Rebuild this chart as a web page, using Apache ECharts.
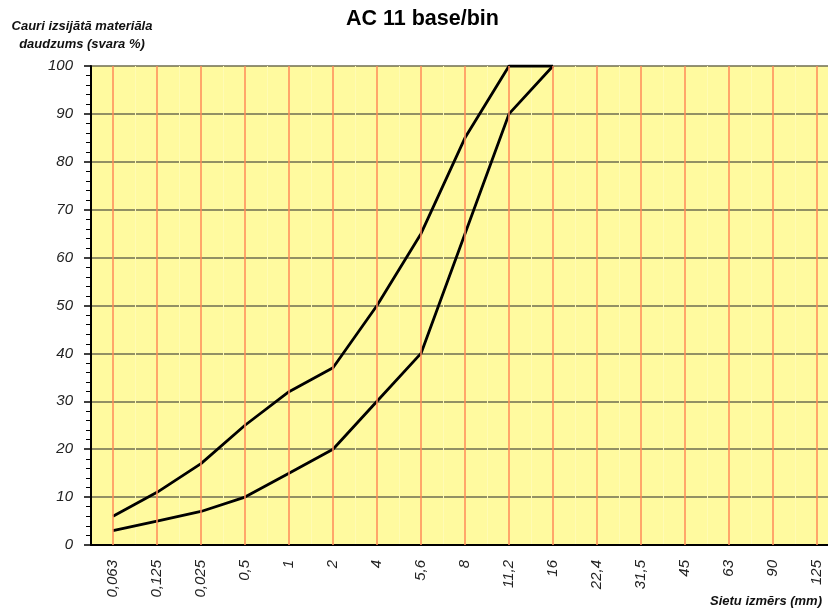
<!DOCTYPE html>
<html>
<head>
<meta charset="utf-8">
<script src="https://cdn.jsdelivr.net/npm/echarts@6/dist/echarts.min.js"></script>
<style>
  html, body { margin: 0; padding: 0; background: #fff; }
  #chart { width: 828px; height: 608px; }
</style>
</head>
<body>
<div id="chart"></div>
<script>
// sieve sizes (mm)
const sieves = ['0,063', '0,125', '0,025', '0,5', '1', '2', '4', '5,6', '8', '11,2', '16', '22,4', '31,5', '45', '63', '90', '125'];
// grading envelope, % passing
const upperLimit = [6, 11, 17, 25, 32, 37, 50, 65, 85, 100, 100, null, null, null, null, null, null];
const lowerLimit = [3, 5, 7, 10, 15, 20, 30, 40, 65, 90, 100, null, null, null, null, null, null];

const FONT = 'Liberation Sans, Arial, sans-serif';

var chart = echarts.init(document.getElementById('chart'));

var option = {
  animation: false,
  title: [
    {
      text: 'AC 11 base/bin',
      left: 341,
      top: 3,
      textStyle: { fontFamily: FONT, fontSize: 21.5, fontWeight: 'bold', color: '#000' }
    },
    {
      text: 'Sietu izmērs (mm)',
      right: 6,
      top: 595,
      padding: 0,
      textStyle: { fontFamily: FONT, fontSize: 13, fontWeight: 'bold', fontStyle: 'italic', color: '#111' }
    }
  ],
  grid: {
    left: 91,
    top: 66,
    width: 748,
    height: 479,
    outerBoundsMode: 'none',
    show: true,
    backgroundColor: '#fffa9f',
    borderWidth: 0
  },
  xAxis: {
    type: 'category',
    data: sieves,
    boundaryGap: true,
    axisLine: { lineStyle: { color: '#000', width: 2 } },
    axisTick: { show: false },
    splitLine: { show: true, lineStyle: { color: '#fffbb4', width: 1 } },
    axisLabel: {
      rotate: 90,
      margin: 15,
      interval: 0,
      fontFamily: FONT,
      fontSize: 15,
      fontStyle: 'italic',
      color: '#222'
    }
  },
  yAxis: {
    type: 'value',
    min: 0,
    max: 100,
    interval: 10,
    name: 'Cauri izsijātā materiāla\ndaudzums (svara %)',
    nameLocation: 'end',
    nameGap: 13,
    nameTextStyle: {
      fontFamily: FONT,
      fontSize: 13,
      fontWeight: 'bold',
      fontStyle: 'italic',
      color: '#111',
      align: 'center',
      lineHeight: 18,
      padding: [0, 18, 0, 0]
    },
    axisLine: { show: true, lineStyle: { color: '#000', width: 2 } },
    axisTick: { show: true, length: 7, lineStyle: { color: '#000', width: 1.5 } },
    minorTick: { show: true, splitNumber: 5, length: 5, lineStyle: { color: '#000', width: 1 } },
    splitLine: { show: true, lineStyle: { color: '#6e6c50', width: 1.5 } },
    axisLabel: {
      margin: 18,
      fontFamily: FONT,
      fontSize: 15,
      fontStyle: 'italic',
      color: '#222'
    }
  },
  series: [
    {
      // vertical sieve lines at each category
      type: 'line',
      data: [],
      z: 1,
      silent: true,
      markLine: {
        silent: true,
        symbol: ['none', 'none'],
        label: { show: false },
        lineStyle: { color: '#ff8a58', width: 1.5, type: 'solid' },
        data: sieves.map(function (s) { return { xAxis: s }; })
      }
    },
    {
      name: 'upper',
      type: 'line',
      data: upperLimit,
      z: 3,
      showSymbol: false,
      symbol: 'none',
      lineStyle: { color: '#000', width: 2.8 }
    },
    {
      name: 'lower',
      type: 'line',
      data: lowerLimit,
      z: 3,
      showSymbol: false,
      symbol: 'none',
      lineStyle: { color: '#000', width: 2.8 }
    }
  ]
};

chart.setOption(option);
</script>
</body>
</html>
